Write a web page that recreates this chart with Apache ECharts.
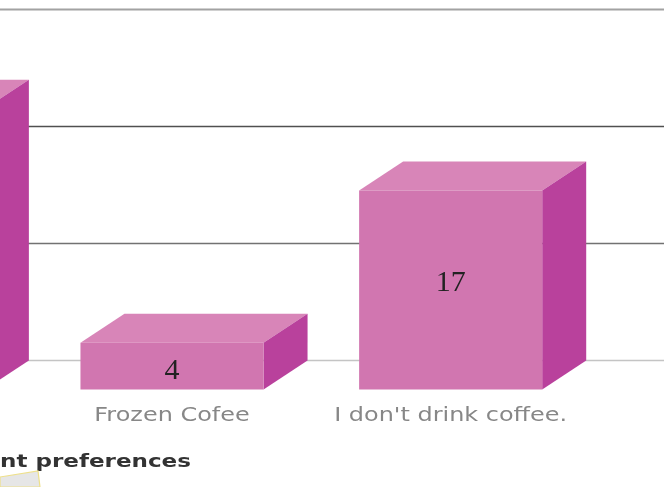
<!DOCTYPE html>
<html><head><meta charset="utf-8">
<script src="https://cdn.jsdelivr.net/npm/echarts@6/dist/echarts.min.js"></script>
<style>html,body{margin:0;padding:0;background:#fff}#main{width:664px;height:487px}</style>
</head><body><div id="main"></div>
<script>
// ---- data ----
const categories = ['', 'Frozen Cofee', "I don't drink coffee."];
const values = [24, 4, 17];
const gridTicks = [0, 10, 20, 30];
const titleText = 'nt preferences';

// ---- style ----
const DX = 44, DY = 29;
const FRONT = '#d176b0', TOP = '#d885b8', SIDE = '#b9419c';
const GRID_COLORS = ['#c4c4c4', '#727272', '#505050', '#a2a2a2'];
const GRID_WIDTHS = [1.5, 1.5, 1.5, 2];

const chart = echarts.init(document.getElementById('main'), null, {renderer: 'canvas'});

function renderGrid(params, api) {
  const y = api.coord([0, api.value(1)])[1];
  return {
    type: 'line',
    shape: {x1: 0, y1: y, x2: api.getWidth(), y2: y},
    style: {stroke: GRID_COLORS[params.dataIndex], lineWidth: GRID_WIDTHS[params.dataIndex]}
  };
}

function renderBar(params, api) {
  const i = api.value(0), v = api.value(1);
  const base = api.coord([i, 0]);
  const top = api.coord([i, v]);
  const w = api.size([1, 0])[0] * 0.657;
  const bl = base[0] - w / 2, br = base[0] + w / 2;
  const fl = bl - DX, fr = br - DX;
  const yb = base[1], yt = top[1];
  const fyb = yb + DY, fyt = yt + DY;
  const h = fyb - fyt;
  const lx = (fl + fr) / 2;
  const ly = (fyt + fyb) / 2 + (h < 100 ? 5 : -7);
  return {
    type: 'group',
    children: [
      {type: 'polygon', shape: {points: [[fl, fyt], [fr, fyt], [br, yt], [bl, yt]]}, style: {fill: TOP}},
      {type: 'polygon', shape: {points: [[fr, fyt], [br, yt], [br, yb], [fr, fyb]]}, style: {fill: SIDE}},
      {type: 'rect', shape: {x: fl, y: fyt, width: w, height: h}, style: {fill: FRONT}},
      {type: 'text', x: lx, y: ly, style: {text: String(v), fontFamily: 'Liberation Serif', fontSize: 30, fill: '#222', align: 'center', verticalAlign: 'middle'}},
      {type: 'text', x: lx, y: fyb + 27, scaleX: 1.26, style: {text: categories[i], fontFamily: 'DejaVu Sans', fontSize: 19, fill: '#878787', align: 'center', verticalAlign: 'middle'}}
    ]
  };
}

chart.setOption({
  backgroundColor: '#ffffff',
  animation: false,
  grid: {left: -202, right: 30, top: 9.5, bottom: 126.5, containLabel: false, outerBoundsMode: 'none'},
  xAxis: {type: 'category', data: categories, axisLine: {show: false}, axisTick: {show: false}, axisLabel: {show: false}, splitLine: {show: false}},
  yAxis: {type: 'value', min: 0, max: 30, interval: 10, axisLine: {show: false}, axisTick: {show: false}, axisLabel: {show: false}, splitLine: {show: false}},
  series: [
    {type: 'custom', z: 1, renderItem: renderGrid, data: gridTicks.map(t => [0, t]), encode: {x: 0, y: 1}, silent: true, clip: false},
    {type: 'custom', z: 2, renderItem: renderBar, data: values.map((v, i) => [i, v]), encode: {x: 0, y: 1}, clip: false}
  ],
  graphic: [
    {type: 'text', left: 0, top: 453, scaleX: 1.28, style: {text: titleText, fontFamily: 'DejaVu Sans', fontWeight: 'bold', fontSize: 18, fill: '#333'}},
    {type: 'polygon', shape: {points: [[0, 477], [38, 471], [40, 487], [0, 487]]}, style: {fill: '#e6e6e6', stroke: '#eee08a', lineWidth: 1.2}}
  ]
});
</script></body></html>
